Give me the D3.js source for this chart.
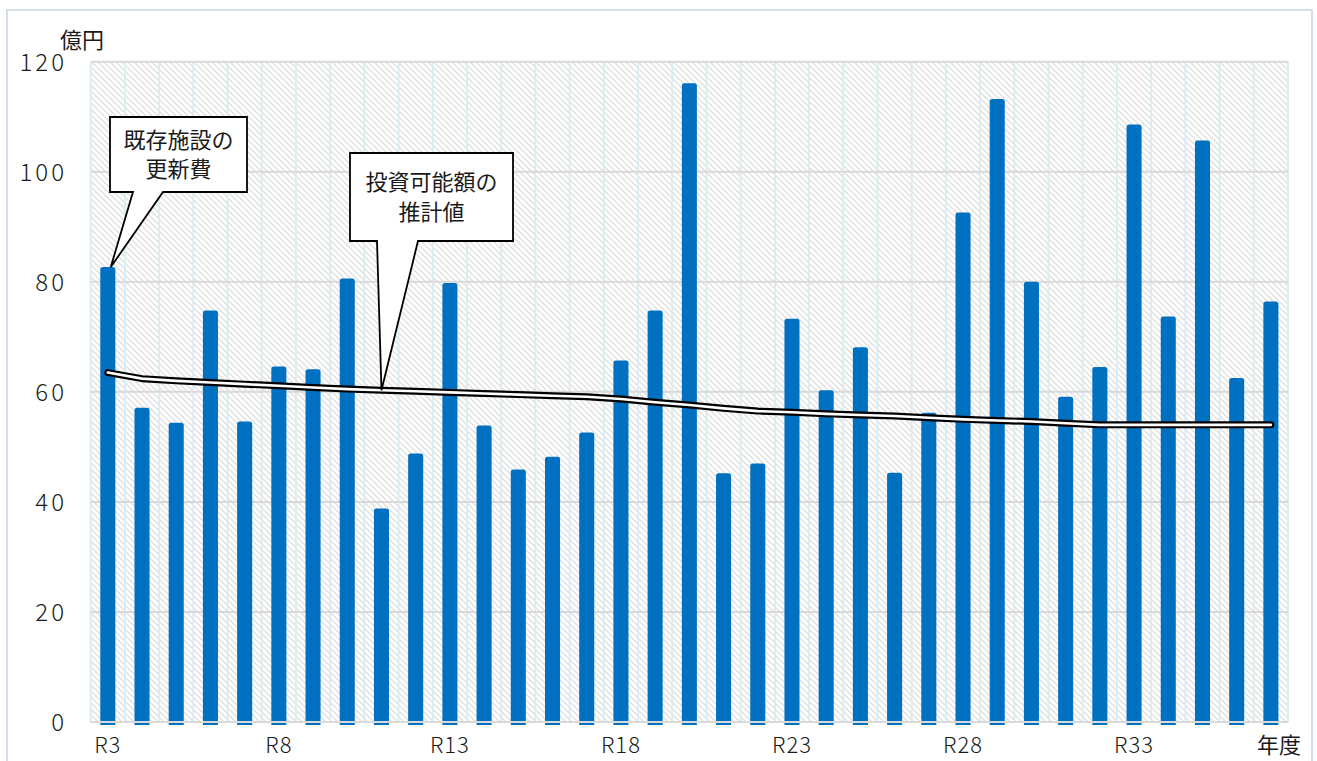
<!DOCTYPE html>
<html><head><meta charset="utf-8">
<script src="https://cdn.jsdelivr.net/npm/d3@7"></script>
<style>
html,body{margin:0;padding:0;background:#fff;}
svg{display:block;font-family:"Noto Sans CJK JP","Noto Sans",sans-serif;}
</style></head>
<body><svg id="chart" width="1317" height="761"></svg>
<script>
const categories = ["R3","R4","R5","R6","R7","R8","R9","R10","R11","R12","R13","R14","R15","R16","R17","R18","R19","R20","R21","R22","R23","R24","R25","R26","R27","R28","R29","R30","R31","R32","R33","R34","R35","R36","R37"];
const renewalCost = [82.7,57.1,54.4,74.8,54.6,64.6,64.1,80.6,38.8,48.8,79.8,53.9,45.9,48.2,52.6,65.7,74.8,116.1,45.2,47.0,73.3,60.3,68.1,45.3,56.2,92.6,113.2,80.0,59.1,64.5,108.6,73.7,105.7,62.5,76.4];
const investable = [63.5,62.4,62.0,61.7,61.4,61.1,60.8,60.5,60.3,60.1,59.9,59.7,59.5,59.3,59.1,58.7,58.1,57.6,57.0,56.5,56.3,56.0,55.8,55.6,55.3,55.0,54.8,54.6,54.3,54.0,54.0,54.0,54.0,54.0,54.0];
const yTicks = [0,20,40,60,80,100,120];
const xTickLabels = ["R3","R8","R13","R18","R23","R28","R33"];
const yUnit = "億円";
const xUnit = "年度";
const callout1 = ["既存施設の","更新費"];
const callout2 = ["投資可能額の","推計値"];

const svg = d3.select("#chart");
const L = 90.7, R = 1288, T = 61.7, B = 722;
const x = d3.scaleBand().domain(categories).range([L, R]).paddingInner(0.56).paddingOuter(0.28);
const y = d3.scaleLinear().domain([0,120]).range([B, T]);
const txt = "#1a1a1a";

// outer border
svg.append("rect").attr("x",7).attr("y",10).attr("width",1305).attr("height",760)
  .attr("fill","none").attr("stroke","#d5deec").attr("stroke-width",2);

// hatch pattern
const defs = svg.append("defs");
const pat = defs.append("pattern").attr("id","hatch").attr("patternUnits","userSpaceOnUse")
  .attr("width",6).attr("height",6);
pat.append("rect").attr("width",6).attr("height",6).attr("fill","#fff");
pat.append("path").attr("d","M-1,-1 L7,7 M-1,5 L1,7 M5,-1 L7,1")
  .attr("stroke","#e0e0e0").attr("stroke-width",1.4);

svg.append("rect").attr("x",L).attr("y",T).attr("width",R-L).attr("height",B-T).attr("fill","url(#hatch)");

// vertical category boundary lines
const step = x.step();
const bounds = d3.range(categories.length+1).map(i => L + i*step);
svg.append("g").selectAll("line").data(bounds).join("line")
  .attr("x1",d=>d).attr("x2",d=>d).attr("y1",T).attr("y2",B)
  .attr("stroke","#dcecf3").attr("stroke-width",2);

// horizontal gridlines
svg.append("g").selectAll("line").data(yTicks).join("line")
  .attr("x1",L).attr("x2",R).attr("y1",d=>y(d)).attr("y2",d=>y(d))
  .attr("stroke","#d9d9d9").attr("stroke-width",2);

// bars
svg.append("g").selectAll("path").data(categories).join("path")
  .attr("fill","#0070c0")
  .attr("d",(c,i)=>{
    const x0 = x(c), w = x.bandwidth(), yt = y(renewalCost[i]), yb = B+3, r = 2.5;
    return `M${x0},${yb} V${yt+r} Q${x0},${yt} ${x0+r},${yt} H${x0+w-r} Q${x0+w},${yt} ${x0+w},${yt+r} V${yb} Z`;
  });

// baseline over bars
svg.append("line").attr("x1",L).attr("x2",R).attr("y1",B).attr("y2",B)
  .attr("stroke","#d9d9d9").attr("stroke-width",2);

// investable line (double line)
const line = d3.line().x((d,i)=>x(categories[i])+x.bandwidth()/2).y(d=>y(d));
svg.append("path").datum(investable).attr("d",line).attr("fill","none")
  .attr("stroke","#000").attr("stroke-width",7).attr("stroke-linecap","round").attr("stroke-linejoin","round");
svg.append("path").datum(investable).attr("d",line).attr("fill","none")
  .attr("stroke","#fff").attr("stroke-width",2.6).attr("stroke-linecap","round").attr("stroke-linejoin","round");

// y axis
const yAxis = d3.axisLeft(y).tickValues(yTicks).tickSize(0).tickPadding(0);
const gy = svg.append("g").attr("transform","translate(67,0)").call(yAxis);
gy.select(".domain").remove();
gy.selectAll("text").attr("font-size",24).attr("fill",txt).attr("letter-spacing","3px")
  .attr("font-family","'Noto Sans CJK JP'").attr("font-weight",300).attr("dy","0.36em");

// x axis
const xAxis = d3.axisBottom(x).tickValues(xTickLabels).tickSize(0).tickPadding(0);
const gx = svg.append("g").attr("transform",`translate(0,${B})`).call(xAxis);
gx.select(".domain").remove();
gx.selectAll("text").attr("font-size",22).attr("fill",txt).attr("letter-spacing","1px")
  .attr("font-family","'Noto Sans CJK JP'").attr("font-weight",300).attr("y",31).attr("dy",0);

// unit labels
svg.append("text").attr("x",60).attr("y",40).attr("dy","0.36em").attr("font-size",22).attr("fill",txt).text(yUnit);
svg.append("text").attr("x",1257).attr("y",753).attr("font-size",22).attr("fill",txt).text(xUnit);

// callouts
function callout(box, baseL, baseR, tip, lines, lineGap){
  const [bx0,by0,bx1,by1] = box;
  const d = `M${bx0},${by0} H${bx1} V${by1} H${baseR} L${tip[0]},${tip[1]} L${baseL},${by1} H${bx0} Z`;
  svg.append("path").attr("d",d).attr("fill","#fff").attr("stroke","#000").attr("stroke-width",1.8).attr("stroke-linejoin","miter");
  const cx = (bx0+bx1)/2, cy = (by0+by1)/2;
  lines.forEach((t,i)=>{
    svg.append("text").attr("x",cx).attr("y",cy + (i-(lines.length-1)/2)*lineGap)
      .attr("dy","0.36em").attr("text-anchor","middle").attr("font-size",22).attr("fill",txt).text(t);
  });
}
const i1 = 0;
callout([110,117,247,192],133,163,[x(categories[i1])+x.bandwidth()/2+3, y(renewalCost[i1])], callout1, 29);
const i2 = categories.indexOf("R11");
callout([350,153,513,241],377,418,[x(categories[i2])+x.bandwidth()/2, y(investable[i2])], callout2, 30);
</script>
</body></html>
